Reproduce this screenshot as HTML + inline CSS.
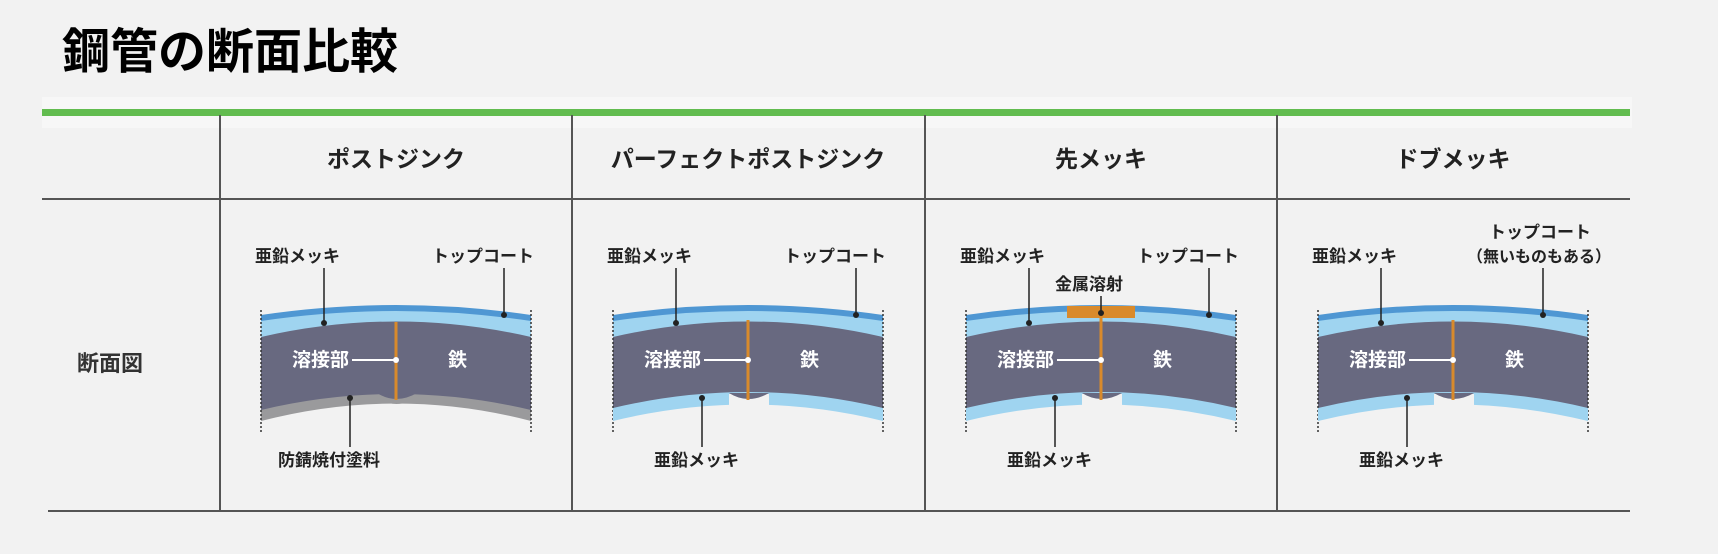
<!DOCTYPE html>
<html><head><meta charset="utf-8"><style>
html,body{margin:0;padding:0;background:#f2f2f2;}
svg{display:block;}
text{font-family:"Liberation Sans","Noto Sans CJK JP",sans-serif;font-weight:bold;}
</style></head><body>
<svg width="1718" height="554" viewBox="0 0 1718 554" xmlns="http://www.w3.org/2000/svg">
<defs>
<g id="pipe">
  <path d="M41,315 Q176,295 311,315 L311,322 Q176,302 41,322 Z" fill="#4f97d3"/>
  <path d="M41,321 Q176,301 311,321 L311,338 Q176,306 41,338 Z" fill="#9fd4f0"/>
  <path d="M41,337 Q176,306 311,337 L311,410 Q176,378 41,410 Z" fill="#686980"/>
  <line x1="41" y1="310" x2="41" y2="433" stroke="#333" stroke-width="1.5" stroke-dasharray="2,2"/>
  <line x1="311" y1="310" x2="311" y2="433" stroke="#333" stroke-width="1.5" stroke-dasharray="2,2"/>
  <text x="72" y="366" font-size="19" fill="#fff">溶接部</text>
  <line x1="132" y1="360" x2="176" y2="360" stroke="#fff" stroke-width="2"/>
  <text x="228" y="366" font-size="19" fill="#fff">鉄</text>
  <text x="35" y="262" font-size="17" fill="#222">亜鉛メッキ</text>
  <line x1="104" y1="268" x2="104" y2="323" stroke="#222" stroke-width="1.5"/>
  <circle cx="104" cy="323" r="3" fill="#222"/>
</g>
<g id="toplabel">
  <text x="212" y="262" font-size="17" fill="#222">トップコート</text>
  <line x1="284" y1="268" x2="284" y2="315" stroke="#222" stroke-width="1.5"/>
  <circle cx="284" cy="315" r="3" fill="#222"/>
</g>
<g id="bluebottom">
  <path d="M41,408 Q176,376 311,408 L311,421 Q176,388 41,421 Z" fill="#9fd4f0"/>
  <rect x="157" y="394" width="40" height="12" fill="#f2f2f2"/>
  <path d="M157,393 Q176,405 197,393 Z" fill="#686980"/>
  <text x="82" y="466" font-size="17" fill="#222">亜鉛メッキ</text>
  <line x1="130" y1="398" x2="130" y2="447" stroke="#222" stroke-width="1.5"/>
  <circle cx="130" cy="398" r="3" fill="#222"/>
</g>
</defs>

<text x="62" y="68" font-size="48" fill="#000">鋼管の断面比較</text>
<rect x="42" y="97" width="1590" height="31" fill="#f7f7f7"/>
<rect x="42" y="109" width="1588" height="7" fill="#62bc4f"/>

<g stroke="#555" stroke-width="2">
<line x1="42" y1="199" x2="1630" y2="199"/>
<line x1="48" y1="511" x2="1630" y2="511"/>
<line x1="220" y1="115" x2="220" y2="511"/>
<line x1="572" y1="115" x2="572" y2="511"/>
<line x1="925" y1="115" x2="925" y2="511"/>
<line x1="1277" y1="115" x2="1277" y2="511"/>
</g>

<g font-size="23" fill="#222" text-anchor="middle">
<text x="396" y="167">ポストジンク</text>
<text x="748" y="167">パーフェクトポストジンク</text>
<text x="1101" y="167">先メッキ</text>
<text x="1453" y="167">ドブメッキ</text>
</g>
<text x="77" y="371" font-size="22" fill="#333">断面図</text>

<g transform="translate(220,0)">
  <path d="M41,408 Q176,376 311,408 L311,421 Q176,386 41,421 Z" fill="#9a9a9c"/>
  <path d="M155,396 Q176,412 199,396 Z" fill="#9a9a9c"/>
  <path d="M157,393 Q176,405 197,393 Z" fill="#686980"/>
  <use href="#pipe"/>
  <use href="#toplabel"/>
  <line x1="176" y1="322" x2="176" y2="400" stroke="#d98a2b" stroke-width="3"/>
  <circle cx="176" cy="360" r="3" fill="#fff"/>
  <text x="58" y="466" font-size="17" fill="#222">防錆焼付塗料</text>
  <line x1="130" y1="398" x2="130" y2="447" stroke="#222" stroke-width="1.5"/>
  <circle cx="130" cy="398" r="3" fill="#222"/>
</g>

<g transform="translate(572,0)">
  <use href="#pipe"/>
  <use href="#toplabel"/>
  <use href="#bluebottom"/>
  <line x1="176" y1="320" x2="176" y2="400" stroke="#d98a2b" stroke-width="3"/>
  <circle cx="176" cy="360" r="3" fill="#fff"/>
</g>

<g transform="translate(925,0)">
  <use href="#pipe"/>
  <use href="#toplabel"/>
  <use href="#bluebottom"/>
  <rect x="142" y="306" width="68" height="12" fill="#d98a2b"/>
  <line x1="176" y1="310" x2="176" y2="400" stroke="#d98a2b" stroke-width="3"/>
  <circle cx="176" cy="360" r="3" fill="#fff"/>
  <text x="130" y="290" font-size="17" fill="#222">金属溶射</text>
  <line x1="176" y1="296" x2="176" y2="313" stroke="#222" stroke-width="1.5"/>
  <circle cx="176" cy="313" r="3" fill="#222"/>
</g>

<g transform="translate(1277,0)">
  <use href="#pipe"/>
  <use href="#bluebottom"/>
  <line x1="176" y1="320" x2="176" y2="400" stroke="#d98a2b" stroke-width="3"/>
  <circle cx="176" cy="360" r="3" fill="#fff"/>
  <text x="212" y="238" font-size="17" fill="#222">トップコート</text>
  <text x="190" y="262" font-size="16" fill="#222">（無いものもある）</text>
  <line x1="266" y1="268" x2="266" y2="315" stroke="#222" stroke-width="1.5"/>
  <circle cx="266" cy="315" r="3" fill="#222"/>
</g>
</svg>
</body></html>
